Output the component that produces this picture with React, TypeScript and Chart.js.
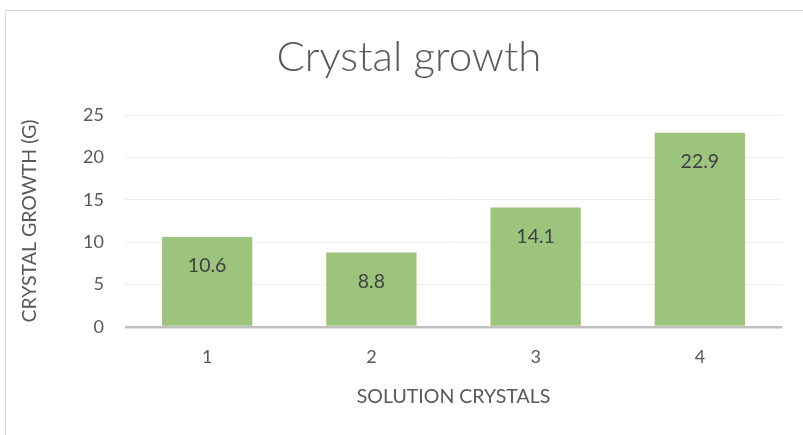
import React, { useEffect, useRef } from "react";
import { Chart, registerables } from "chart.js";

Chart.register(...registerables);

const categories = ["1", "2", "3", "4"];
const growth = [10.6, 8.8, 14.1, 22.9];
const yMin = 0;
const yMax = 25;
const yStep = 5;
const chartTitle = "Crystal growth";
const xTitle = "SOLUTION CRYSTALS";
const yTitle = "CRYSTAL GROWTH (G)";

const FONT = "Lato, 'Open Sans', sans-serif";

const frame = {
  id: "frame",
  beforeDraw(chart: any) {
    const { ctx, width, height } = chart;
    ctx.save();
    ctx.fillStyle = "#ffffff";
    ctx.fillRect(0, 0, width, height);
    ctx.strokeStyle = "#d9d9d9";
    ctx.lineWidth = 1;
    ctx.strokeRect(5.5, 10.5, width + 50, height + 50);
    // chart title, centred on the chart frame
    ctx.font = `300 42px ${FONT}`;
    ctx.fillStyle = "#595959";
    ctx.textAlign = "center";
    ctx.textBaseline = "middle";
    ctx.fillText(chartTitle, 409, 57);
    ctx.restore();
  },
};

const barLabels = {
  id: "barLabels",
  afterDatasetsDraw(chart: any) {
    const { ctx } = chart;
    const meta = chart.getDatasetMeta(0);
    const data = chart.data.datasets[0].data as number[];
    ctx.save();
    ctx.font = `19.5px ${FONT}`;
    ctx.fillStyle = "#404040";
    ctx.textAlign = "center";
    ctx.textBaseline = "middle";
    meta.data.forEach((el: any, i: number) => {
      ctx.fillText(data[i].toFixed(1), el.x, el.y + 29);
    });
    ctx.restore();
  },
};

export default function App() {
  const ref = useRef<HTMLCanvasElement>(null);

  useEffect(() => {
    document.body.style.margin = "0";
    const chart = new Chart(ref.current!, {
      type: "bar",
      data: {
        labels: categories,
        datasets: [
          {
            data: growth,
            backgroundColor: "rgb(156,196,124)",
            borderWidth: 0,
            categoryPercentage: 1,
            barPercentage: 0.55,
          },
        ],
      },
      plugins: [frame, barLabels],
      options: {
        responsive: false,
        animation: false,
        devicePixelRatio: 1,
        layout: { padding: { left: 0, right: 21, top: 115, bottom: 0 } },
        plugins: {
          legend: { display: false },
          tooltip: { enabled: false },
          title: { display: false },
        },
        scales: {
          x: {
            grid: { display: false, drawTicks: false },
            border: { display: false },
            ticks: {
              color: "#595959",
              font: { family: FONT, size: 18 },
              padding: 19,
            },
            title: {
              display: true,
              text: xTitle,
              color: "#595959",
              font: { family: FONT, size: 19.5 },
              padding: { top: 0, bottom: 27 },
            },
            afterFit(scale: any) {
              scale.height = 108;
            },
          },
          y: {
            min: yMin,
            max: yMax,
            grid: {
              drawTicks: false,
              color: (c: any) => (c.tick && c.tick.value === 0 ? "#bfbfbf" : "#ececec"),
              lineWidth: (c: any) => (c.tick && c.tick.value === 0 ? 2.5 : 1),
            },
            border: { display: false },
            ticks: {
              stepSize: yStep,
              color: "#595959",
              font: { family: FONT, size: 18 },
              padding: 21,
            },
            title: {
              display: true,
              text: yTitle,
              color: "#595959",
              font: { family: FONT, size: 19.5 },
              padding: { top: 18, bottom: 0 },
            },
            afterFit(scale: any) {
              scale.width = 125;
            },
          },
        },
      },
    });
    return () => chart.destroy();
  }, []);

  return <canvas ref={ref} width={803} height={435} style={{ display: "block" }} />;
}
